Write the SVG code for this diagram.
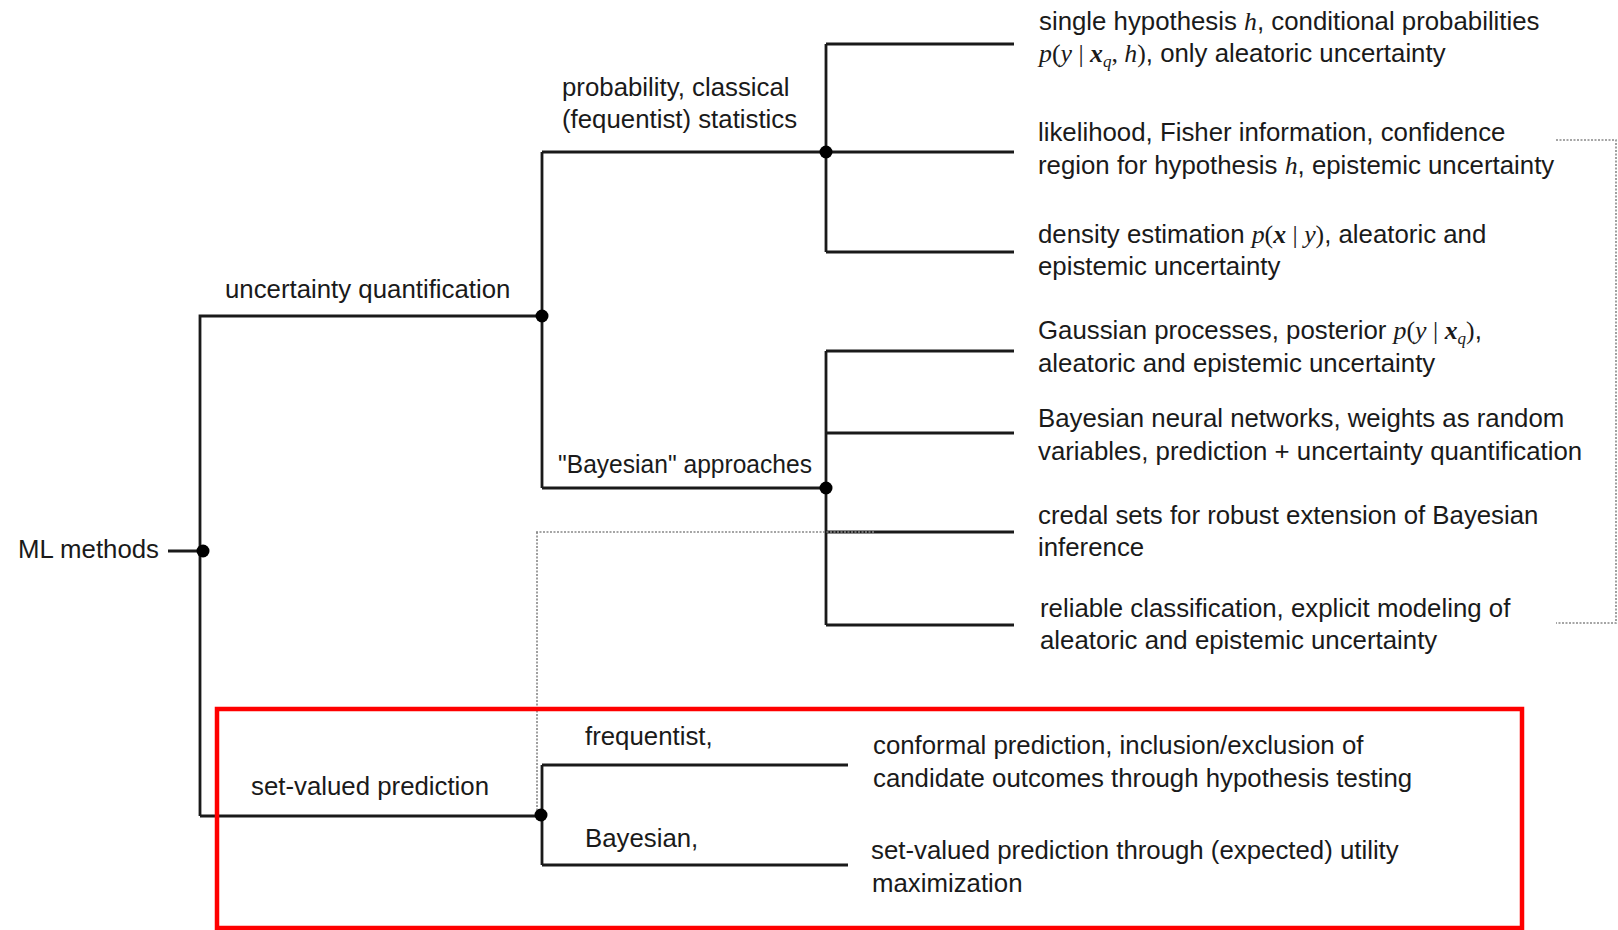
<svg xmlns="http://www.w3.org/2000/svg" width="1618" height="930" viewBox="0 0 1618 930">
<style>
text{font-family:"Liberation Sans",Arial,sans-serif;font-size:25.8px;fill:#1a1a1a}
.m{font-family:"Liberation Serif","Times New Roman",serif;font-style:italic}
.mb{font-family:"Liberation Serif","Times New Roman",serif;font-style:italic;font-weight:bold}
.r{font-family:"Liberation Serif","Times New Roman",serif}
.ln{stroke:#1a1a1a;stroke-width:2.8;fill:none}
.dot{fill:#000}
.dt{stroke:#888;stroke-width:1.6;fill:none;stroke-dasharray:2 1.5}
</style>
<rect width="1618" height="930" fill="#fff"/>
<g id="connectors">
<path class="ln" d="M168 551H203M200 816V316H542M542 152V488M542 152H1014M826 44V252M826 44H1014M826 252H1014M542 488H826M826 351V625M826 351H1014M826 433H1014M826 532H1014M826 625H1014M200 816H542M542 765V865M542 765H848M542 865H848"/>
<path class="dt" d="M536 532H875M537 532V815M1556 140H1616V623H1556"/>
<circle class="dot" cx="203" cy="551" r="6.5"/>
<circle class="dot" cx="542" cy="316" r="6.5"/>
<circle class="dot" cx="826" cy="152" r="6.5"/>
<circle class="dot" cx="826" cy="488" r="6.5"/>
<circle class="dot" cx="541" cy="815" r="6.5"/>
</g>
<g id="n-ml"><text x="18" y="558">ML methods</text></g>
<g id="n-uq"><text x="225" y="298">uncertainty quantification</text></g>
<g id="n-prob"><text x="562" y="96">probability, classical</text><text x="562" y="128">(fequentist) statistics</text></g>
<g id="n-bayes"><text x="558" y="473" textLength="254" lengthAdjust="spacingAndGlyphs">"Bayesian" approaches</text></g>
<g id="n-single"><text x="1039" y="30">single hypothesis <tspan class="m">h</tspan>, conditional probabilities</text><text x="1039" y="62"><tspan class="m">p</tspan><tspan class="r">(</tspan><tspan class="m">y</tspan><tspan class="r"> | </tspan><tspan class="mb">x</tspan><tspan class="m" font-size="17" dy="5">q</tspan><tspan class="r" dy="-5">, </tspan><tspan class="m">h</tspan><tspan class="r">)</tspan>, only aleatoric uncertainty</text></g>
<g id="n-lik"><text x="1038" y="141">likelihood, Fisher information, confidence</text><text x="1038" y="174">region for hypothesis <tspan class="m">h</tspan>, epistemic uncertainty</text></g>
<g id="n-dens"><text x="1038" y="243">density estimation <tspan class="m">p</tspan><tspan class="r">(</tspan><tspan class="mb">x</tspan><tspan class="r"> | </tspan><tspan class="m">y</tspan><tspan class="r">)</tspan>, aleatoric and</text><text x="1038" y="275">epistemic uncertainty</text></g>
<g id="n-gp"><text x="1038" y="339">Gaussian processes, posterior <tspan class="m">p</tspan><tspan class="r">(</tspan><tspan class="m">y</tspan><tspan class="r"> | </tspan><tspan class="mb">x</tspan><tspan class="m" font-size="17" dy="5">q</tspan><tspan class="r" dy="-5">)</tspan>,</text><text x="1038" y="372">aleatoric and epistemic uncertainty</text></g>
<g id="n-bnn"><text x="1038" y="427">Bayesian neural networks, weights as random</text><text x="1038" y="460">variables, prediction + uncertainty quantification</text></g>
<g id="n-credal"><text x="1038" y="524">credal sets for robust extension of Bayesian</text><text x="1038" y="556">inference</text></g>
<g id="n-rel"><text x="1040" y="617">reliable classification, explicit modeling of</text><text x="1040" y="649">aleatoric and epistemic uncertainty</text></g>
<g id="n-svp"><text x="251" y="795">set-valued prediction</text></g>
<g id="n-freq"><text x="585" y="745">frequentist,</text></g>
<g id="n-bay2"><text x="585" y="847">Bayesian,</text></g>
<g id="n-conf"><text x="873" y="754">conformal prediction, inclusion/exclusion of</text><text x="873" y="787">candidate outcomes through hypothesis testing</text></g>
<g id="n-util"><text x="871" y="859">set-valued prediction through (expected) utility</text><text x="872" y="892">maximization</text></g>
<g id="highlight"><rect x="217" y="709" width="1305" height="219" fill="none" stroke="#ff0000" stroke-width="4.5"/></g>
</svg>
